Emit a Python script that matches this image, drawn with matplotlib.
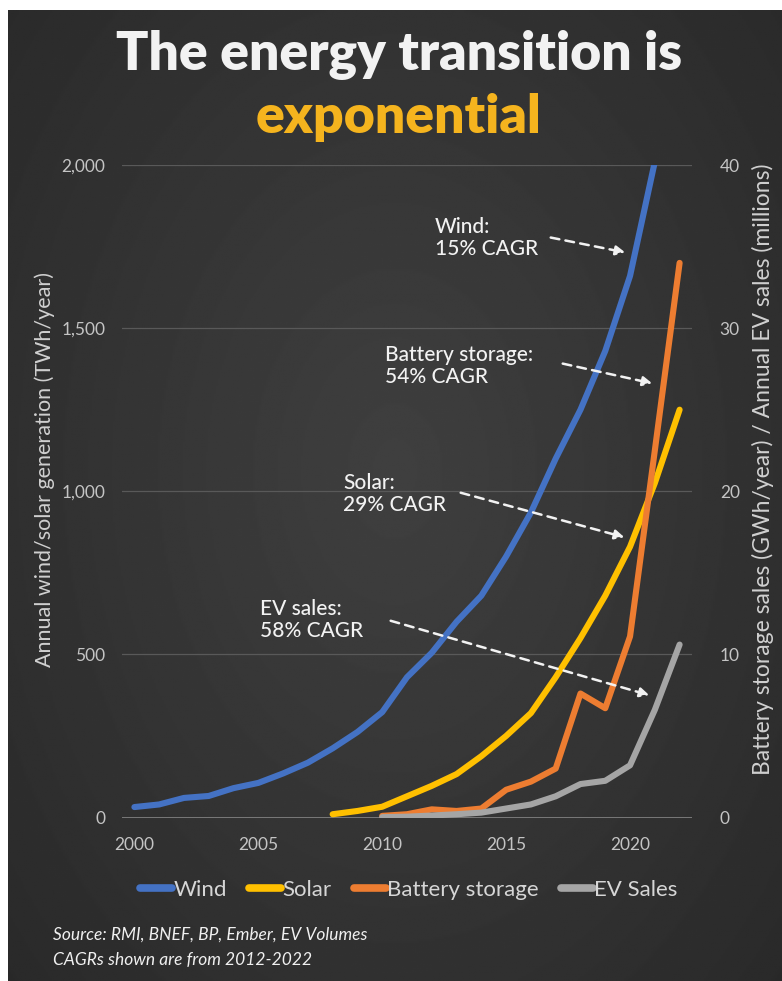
import numpy as np
import matplotlib.pyplot as plt
from matplotlib.lines import Line2D
from matplotlib.patches import FancyArrowPatch

plt.rcParams['font.family'] = ['Lato', 'DejaVu Sans']

years = list(range(2000, 2023))
# TWh/year, left axis
wind = [32, 40, 60, 66, 90, 106, 135, 168, 212, 262, 323, 430, 505, 600, 680,
        800, 935, 1100, 1250, 1430, 1660, 2010, 2300]
solar_years = list(range(2008, 2023))
solar = [10, 20, 33, 65, 97, 133, 188, 250, 320, 430, 550, 680, 830, 1025, 1250]
# GWh/year and millions, right axis
battery_years = list(range(2010, 2023))
battery = [0.1, 0.2, 0.5, 0.4, 0.55, 1.7, 2.2, 3.0, 7.6, 6.7, 11.1, 22.5, 34.0]
ev_years = list(range(2010, 2023))
ev = [0.02, 0.05, 0.12, 0.2, 0.3, 0.55, 0.8, 1.3, 2.05, 2.25, 3.2, 6.6, 10.6]

W, H = 782, 981
fig = plt.figure(figsize=(W / 100, H / 100), dpi=100, facecolor='white')

def fx(px):
    return px / W

def fy(py):
    return 1 - py / H

# dark backdrop, a little lighter in the middle
bg = fig.add_axes([fx(8), 0, 1 - fx(8), fy(10)])
gx, gy = np.meshgrid(np.linspace(-1, 1, 400), np.linspace(-1, 1, 500))
r = np.sqrt((gx * 0.85) ** 2 + ((gy + 0.05) * 0.75) ** 2)
shade = np.clip(0.25 - 0.075 * r, 0.16, 0.26)
bg.imshow(shade, cmap='gray', vmin=0, vmax=1, aspect='auto', extent=[0, 1, 0, 1])
bg.set_axis_off()

ax = fig.add_axes([fx(122), fy(817.5), fx(692) - fx(122), fy(165) - fy(817.5)])
ax.set_facecolor('none')
ax2 = ax.twinx()

tick_col = '#c4c4c4'
for y in [500, 1000, 1500, 2000]:
    ax.axhline(y, color='#595959', lw=0.9, zorder=0)
ax.axhline(0, color='#8c8c8c', lw=1.1, zorder=1)

lw = 4.4
ax.plot(years, wind, color='#4472C4', lw=lw, solid_joinstyle='round', solid_capstyle='round')
ax.plot(solar_years, solar, color='#FFC000', lw=lw, solid_joinstyle='round', solid_capstyle='round')
ax2.plot(battery_years, battery, color='#ED7D31', lw=lw, solid_joinstyle='round', solid_capstyle='round')
ax2.plot(ev_years, ev, color='#A5A5A5', lw=lw, solid_joinstyle='round', solid_capstyle='round')

ax.set_xlim(1999.5, 2022.5)
ax.set_ylim(0, 2000)
ax2.set_ylim(0, 40)
ax.set_xticks([2000, 2005, 2010, 2015, 2020])
ax.set_yticks([0, 500, 1000, 1500, 2000])
ax.set_yticklabels(['0', '500', '1,000', '1,500', '2,000'])
ax2.set_yticks([0, 10, 20, 30, 40])
for a in (ax, ax2):
    for s in a.spines.values():
        s.set_visible(False)
    a.tick_params(length=0, colors=tick_col, labelsize=12.5)
ax.tick_params(axis='y', pad=12)
ax.tick_params(axis='x', pad=14)
ax2.tick_params(axis='y', pad=20)

ax.set_ylabel('Annual wind/solar generation (TWh/year)', color='#d0d0d0', fontsize=15.5)
ax2.set_ylabel('Battery storage sales (GWh/year) / Annual EV sales (millions)', color='#d0d0d0',
               fontsize=16.5)
ax.yaxis.set_label_coords(-0.118, 0.533)
ax2.yaxis.set_label_coords(1.105, 0.533)

# CAGR notes
note = dict(color='#f2f2f2', fontsize=15, fontweight='medium', va='center', ha='left',
            linespacing=1.15)
fig.text(fx(435), fy(238), 'Wind:\n15% CAGR', **note)
fig.text(fx(385), fy(366), 'Battery storage:\n54% CAGR', **note)
fig.text(fx(343), fy(494), 'Solar:\n29% CAGR', **note)
fig.text(fx(260), fy(620), 'EV sales:\n58% CAGR', **note)

arrows = [((548, 237), (628, 253)), ((560, 363), (655, 384)),
          ((458, 492), (627, 538)), ((388, 620), (652, 696))]
for (x0, y0), (x1, y1) in arrows:
    fig.add_artist(FancyArrowPatch(
        (fx(x0), fy(y0)), (fx(x1), fy(y1)), transform=fig.transFigure,
        arrowstyle='-|>', mutation_scale=14, color='#f2f2f2', lw=1.8,
        linestyle=(0, (3.5, 2.5)), zorder=5))

handles = [Line2D([], [], color=c, lw=5.5, solid_capstyle='round') for c in
           ['#4472C4', '#FFC000', '#ED7D31', '#A5A5A5']]
leg = fig.legend(handles, ['Wind', 'Solar', 'Battery storage', 'EV Sales'], loc='center',
                 bbox_to_anchor=(fx(409), fy(890)), ncol=4, frameon=False, fontsize=16,
                 handlelength=1.45, handletextpad=0.05, columnspacing=1.0)
for t in leg.get_texts():
    t.set_color('#d6d6d6')

fig.text(0.51, fy(55), 'The energy transition is', color='#f2f2f2', fontsize=38.5,
         fontweight='heavy', ha='center', va='center')
fig.text(0.51, fy(118), 'exponential', color='#F5B41E', fontsize=38.5,
         fontweight='heavy', ha='center', va='center')

fig.text(fx(53), fy(935), 'Source: RMI, BNEF, BP, Ember, EV Volumes', color='#f0f0f0',
         fontsize=12.5, style='italic', va='center')
fig.text(fx(53), fy(960), 'CAGRs shown are from 2012-2022', color='#f0f0f0',
         fontsize=12.5, style='italic', va='center')

fig.savefig('out.png', dpi=100, facecolor='white')
